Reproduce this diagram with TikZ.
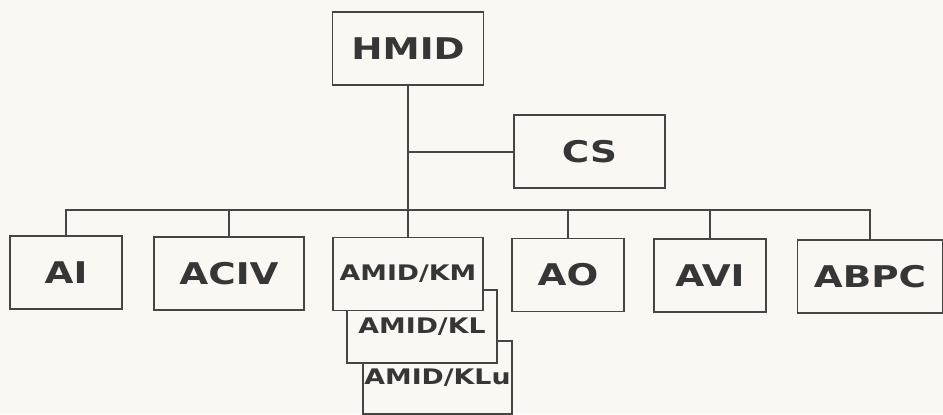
\documentclass[tikz,border=0pt]{standalone}
\usepackage{fontspec}
\newfontfamily\chartfont{DejaVu Sans Bold}[FakeStretch=1.25]
\usetikzlibrary{positioning}
\definecolor{paper}{HTML}{FBF8F3}
\definecolor{ink}{HTML}{363636}
\definecolor{rule}{HTML}{454545}
\tikzset{
  unit/.style={draw=rule, fill=paper, line width=1.5bp, inner sep=0pt,
    minimum height=73bp, text=ink,
    font=\chartfont\fontsize{30}{32}\selectfont},
  subunit/.style={unit, font=\chartfont\fontsize{21.5}{23}\selectfont},
  link/.style={draw=rule, line width=2bp}
}

\begin{document}
\begin{tikzpicture}[x=1bp, y=-1bp]
  \fill[paper] (0,0) rectangle (943,414);
  \useasboundingbox (0,0) rectangle (943,414);
  % top of the chart
  \node[unit, minimum width=151bp] (hmid) at (408,48.5) {HMID};
  \node[unit, minimum width=151bp] (cs) at (589.5,151.5) {CS};
  % stacked units, back to front
  \node[subunit, minimum width=149bp] (klu) at (437.5,377.5) {AMID/KLu};
  \node[subunit, minimum width=150bp] (kl) at (422,326.5) {AMID/KL};
  \node[subunit, minimum width=150bp] (km) at (408,274) {AMID/KM};
  % row of units
  \node[unit, minimum width=112bp] (ai) at (66,272.5) {AI};
  \node[unit, minimum width=150bp] (aciv) at (229,273.5) {ACIV};
  \node[unit, minimum width=112bp] (ao) at (568,275) {AO};
  \node[unit, minimum width=112bp] (avi) at (710,275.5) {AVI};
  \node[unit, minimum width=145bp] (abpc) at (870,276.5) {ABPC};
  % connectors
  \coordinate (bus) at (408,210);
  \draw[link] (hmid.south) -- (km.north);
  \draw[link] (hmid.south |- cs.west) -- (cs.west);
  \draw[link] (ai.north) |- (bus) -| (abpc.north);
  \foreach \u in {aciv, ao, avi}
    \draw[link] (\u.north) -- (\u.north |- bus);
\end{tikzpicture}
\end{document}
